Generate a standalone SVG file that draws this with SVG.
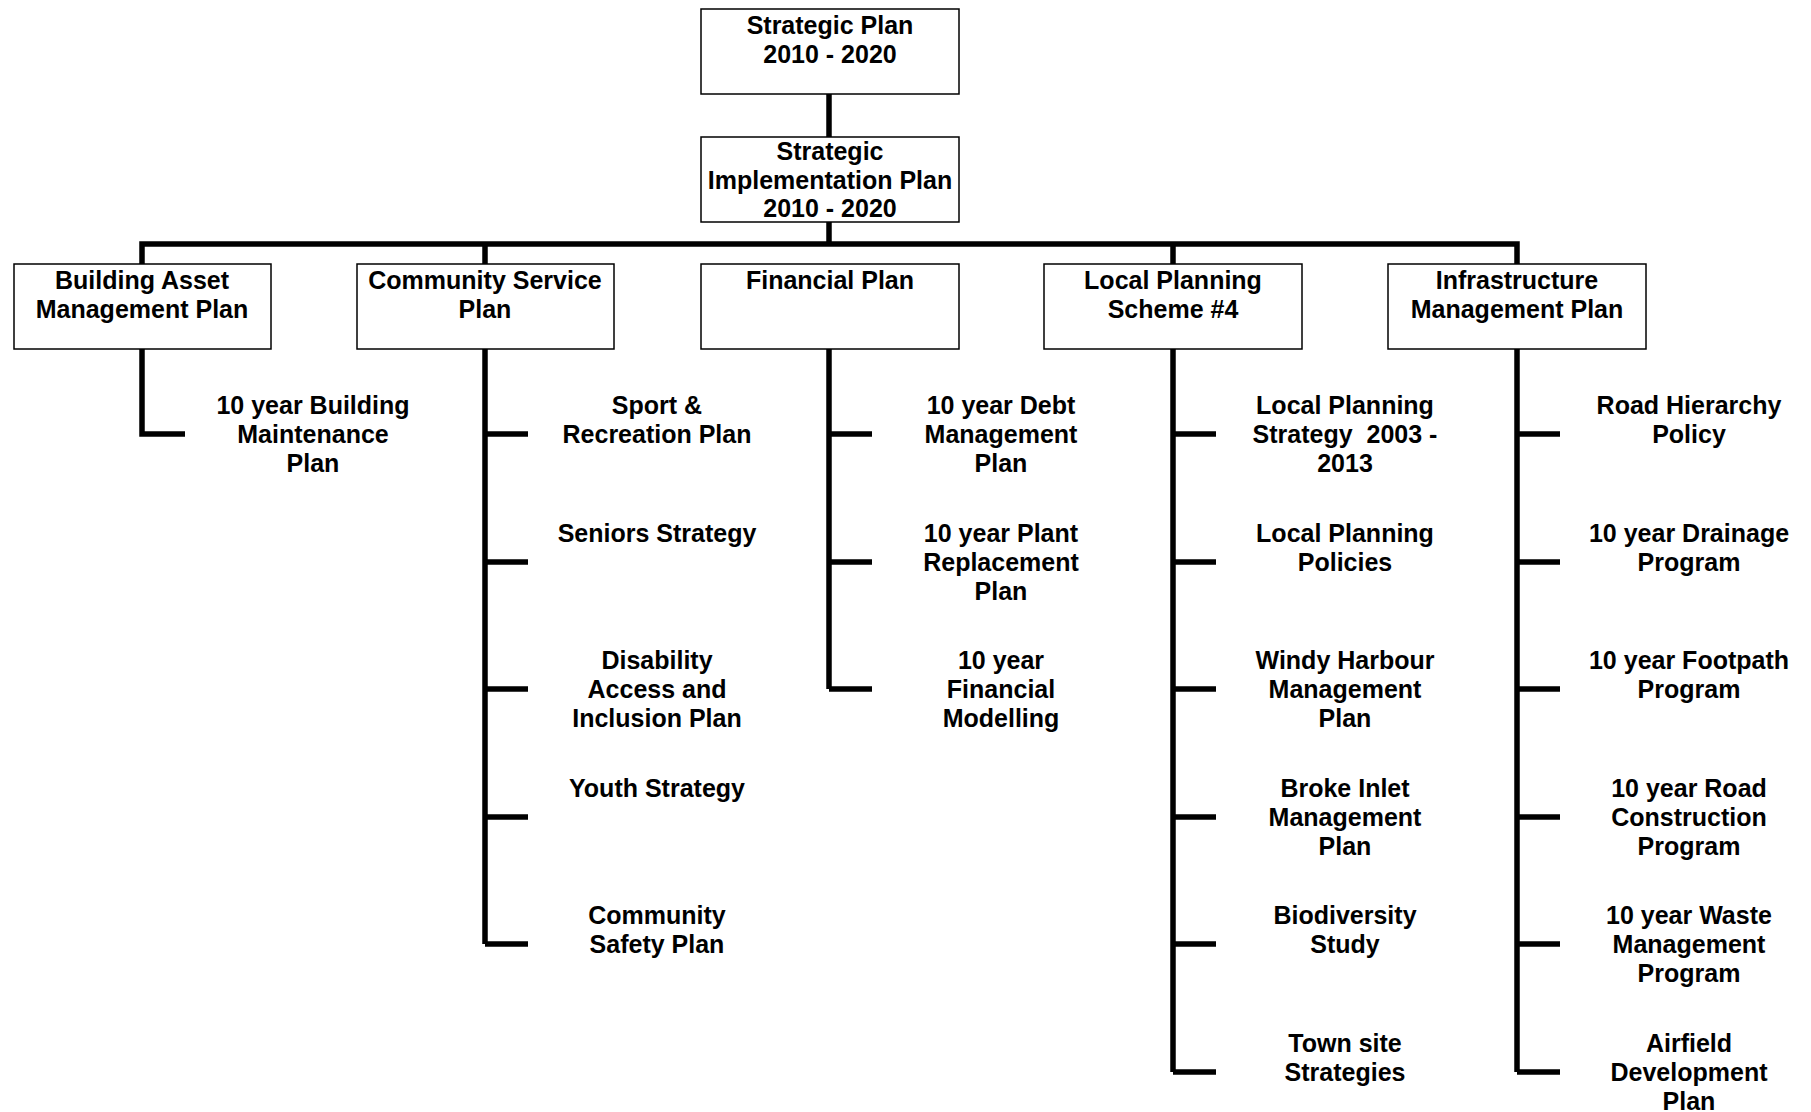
<svg xmlns="http://www.w3.org/2000/svg" width="1811" height="1112" viewBox="0 0 1811 1112">
<style>
.box{fill:#fff;stroke:#000;stroke-width:1.5}
.t{font-family:"Liberation Sans",Arial,sans-serif;font-weight:bold;font-size:25px;fill:#000;text-anchor:middle}
.c{fill:none;stroke:#000;stroke-width:5.5;stroke-linejoin:miter;stroke-linecap:butt}
</style>
<rect width="1811" height="1112" fill="#fff"/>
<g id="connectors">
<path class="c" d="M829,94V137M829,222V244M142,264V244H1517V264M485,244V264M1173,244V264"/>
<path class="c" d="M142,349V434H185"/>
<path class="c" d="M485,349V944M485,434H528M485,562H528M485,689H528M485,817H528M485,944H528"/>
<path class="c" d="M829,349V689M829,434H872M829,562H872M829,689H872"/>
<path class="c" d="M1173,349V1072M1173,434H1216M1173,562H1216M1173,689H1216M1173,817H1216M1173,944H1216M1173,1072H1216"/>
<path class="c" d="M1517,349V1072M1517,434H1560M1517,562H1560M1517,689H1560M1517,817H1560M1517,944H1560M1517,1072H1560"/>
</g>
<g id="strategic-plan"><rect class="box" x="701" y="9" width="258" height="85"/><text class="t" x="830" y="34">Strategic Plan</text><text class="t" x="830" y="63">2010 - 2020</text></g>
<g id="strategic-implementation-plan"><rect class="box" x="701" y="137" width="258" height="85"/><text class="t" x="830" y="160">Strategic</text><text class="t" x="830" y="189">Implementation Plan</text><text class="t" x="830" y="217">2010 - 2020</text></g>
<g id="building-asset"><rect class="box" x="14" y="264" width="257" height="85"/><text class="t" x="142" y="289">Building Asset</text><text class="t" x="142" y="318">Management Plan</text></g>
<g id="community-service"><rect class="box" x="357" y="264" width="257" height="85"/><text class="t" x="485" y="289">Community Service</text><text class="t" x="485" y="318">Plan</text></g>
<g id="financial"><rect class="box" x="701" y="264" width="258" height="85"/><text class="t" x="830" y="289">Financial Plan</text></g>
<g id="local-planning"><rect class="box" x="1044" y="264" width="258" height="85"/><text class="t" x="1173" y="289">Local Planning</text><text class="t" x="1173" y="318">Scheme #4</text></g>
<g id="infrastructure"><rect class="box" x="1388" y="264" width="258" height="85"/><text class="t" x="1517" y="289">Infrastructure</text><text class="t" x="1517" y="318">Management Plan</text></g>

<g id="building-maintenance"><text class="t" x="313" y="414">10 year Building</text><text class="t" x="313" y="443">Maintenance</text><text class="t" x="313" y="472">Plan</text></g>

<g id="sport-recreation"><text class="t" x="657" y="414">Sport &amp;</text><text class="t" x="657" y="443">Recreation Plan</text></g>
<g id="seniors"><text class="t" x="657" y="542">Seniors Strategy</text></g>
<g id="disability"><text class="t" x="657" y="669">Disability</text><text class="t" x="657" y="698">Access and</text><text class="t" x="657" y="727">Inclusion Plan</text></g>
<g id="youth"><text class="t" x="657" y="797">Youth Strategy</text></g>
<g id="community-safety"><text class="t" x="657" y="924">Community</text><text class="t" x="657" y="953">Safety Plan</text></g>

<g id="debt"><text class="t" x="1001" y="414">10 year Debt</text><text class="t" x="1001" y="443">Management</text><text class="t" x="1001" y="472">Plan</text></g>
<g id="plant"><text class="t" x="1001" y="542">10 year Plant</text><text class="t" x="1001" y="571">Replacement</text><text class="t" x="1001" y="600">Plan</text></g>
<g id="financial-modelling"><text class="t" x="1001" y="669">10 year</text><text class="t" x="1001" y="698">Financial</text><text class="t" x="1001" y="727">Modelling</text></g>

<g id="lps"><text class="t" x="1345" y="414">Local Planning</text><text class="t" x="1345" y="443" xml:space="preserve">Strategy  2003 -</text><text class="t" x="1345" y="472">2013</text></g>
<g id="lp-policies"><text class="t" x="1345" y="542">Local Planning</text><text class="t" x="1345" y="571">Policies</text></g>
<g id="windy"><text class="t" x="1345" y="669">Windy Harbour</text><text class="t" x="1345" y="698">Management</text><text class="t" x="1345" y="727">Plan</text></g>
<g id="broke"><text class="t" x="1345" y="797">Broke Inlet</text><text class="t" x="1345" y="826">Management</text><text class="t" x="1345" y="855">Plan</text></g>
<g id="biodiversity"><text class="t" x="1345" y="924">Biodiversity</text><text class="t" x="1345" y="953">Study</text></g>
<g id="townsite"><text class="t" x="1345" y="1052">Town site</text><text class="t" x="1345" y="1081">Strategies</text></g>

<g id="road-hierarchy"><text class="t" x="1689" y="414">Road Hierarchy</text><text class="t" x="1689" y="443">Policy</text></g>
<g id="drainage"><text class="t" x="1689" y="542">10 year Drainage</text><text class="t" x="1689" y="571">Program</text></g>
<g id="footpath"><text class="t" x="1689" y="669">10 year Footpath</text><text class="t" x="1689" y="698">Program</text></g>
<g id="road-construction"><text class="t" x="1689" y="797">10 year Road</text><text class="t" x="1689" y="826">Construction</text><text class="t" x="1689" y="855">Program</text></g>
<g id="waste"><text class="t" x="1689" y="924">10 year Waste</text><text class="t" x="1689" y="953">Management</text><text class="t" x="1689" y="982">Program</text></g>
<g id="airfield"><text class="t" x="1689" y="1052">Airfield</text><text class="t" x="1689" y="1081">Development</text><text class="t" x="1689" y="1110">Plan</text></g>
</svg>
